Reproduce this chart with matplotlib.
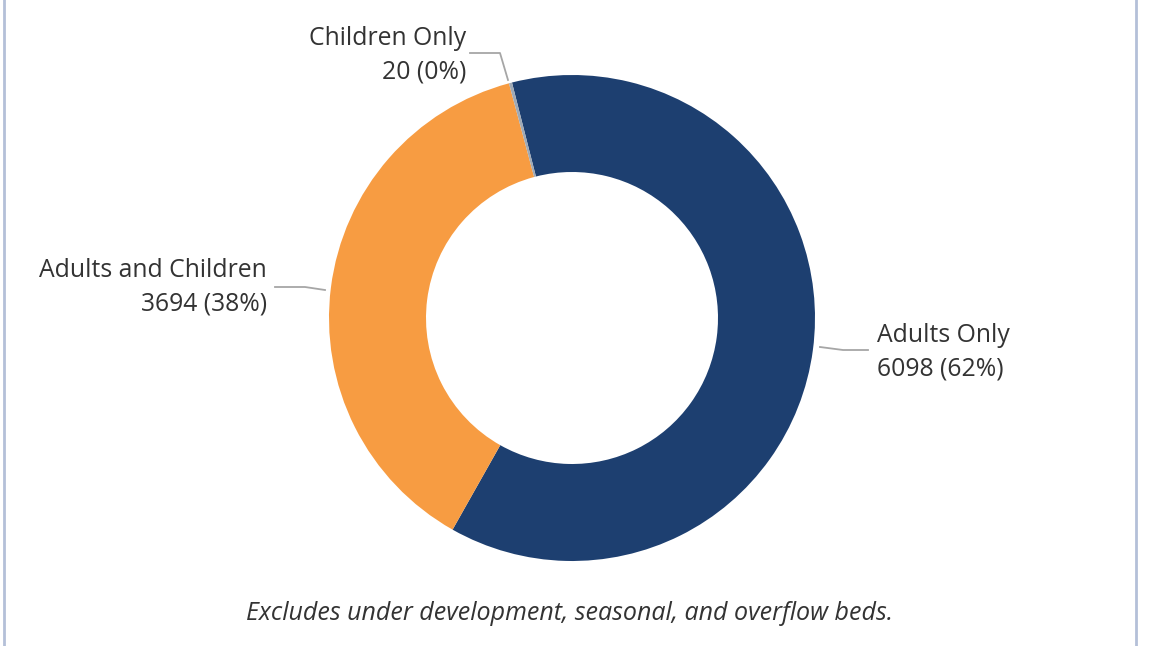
import matplotlib.pyplot as plt
from matplotlib.lines import Line2D

categories = ['Adults Only', 'Adults and Children', 'Children Only']
beds = [6098, 3694, 20]
colors = ['#1d3f70', '#f79c42', '#9fa9b5']

W, H = 1160, 646
plt.rcParams['font.family'] = ['Open Sans', 'DejaVu Sans']

fig = plt.figure(figsize=(W / 100, H / 100), dpi=100)
ax = fig.add_axes([0, 0, 1, 1])


def py(y):
    # pixel rows from top -> data y
    return H - y


ax.pie(beds, colors=colors, startangle=104.3, counterclock=False,
       center=(572, py(318)), radius=243, frame=True,
       wedgeprops=dict(width=97, linewidth=0))
ax.set_xlim(0, W)
ax.set_ylim(0, H)
ax.set_aspect('equal')
ax.axis('off')

total = sum(beds)
labels = [f'{c}\n{v} ({v / total:.0%})' for c, v in zip(categories, beds)]

txt = dict(fontsize=17.8, color='#333333', linespacing=1.45)
ax.text(877, py(352), labels[0], ha='left', va='center', **txt)
ax.text(267, py(287), labels[1], ha='right', va='center', **txt)
ax.text(466, py(55), labels[2], ha='right', va='center', **txt)

lead = dict(color='#a6a6a6', linewidth=1.3)
ax.add_line(Line2D([820, 843, 868], [py(347), py(350), py(350)], **lead))
ax.add_line(Line2D([275, 305, 325], [py(287), py(287), py(290)], **lead))
ax.add_line(Line2D([470, 500, 508], [py(53), py(53), py(80)], **lead))

# side borders of the panel
ax.add_line(Line2D([4, 4], [0, H], color='#b4c0d8', linewidth=2))
ax.add_line(Line2D([1136, 1136], [0, H], color='#b4c0d8', linewidth=2))

ax.text(570, py(613), 'Excludes under development, seasonal, and overflow beds.',
        ha='center', va='center', fontsize=18, style='italic', color='#333333')

fig.savefig('out.png', dpi=100)
